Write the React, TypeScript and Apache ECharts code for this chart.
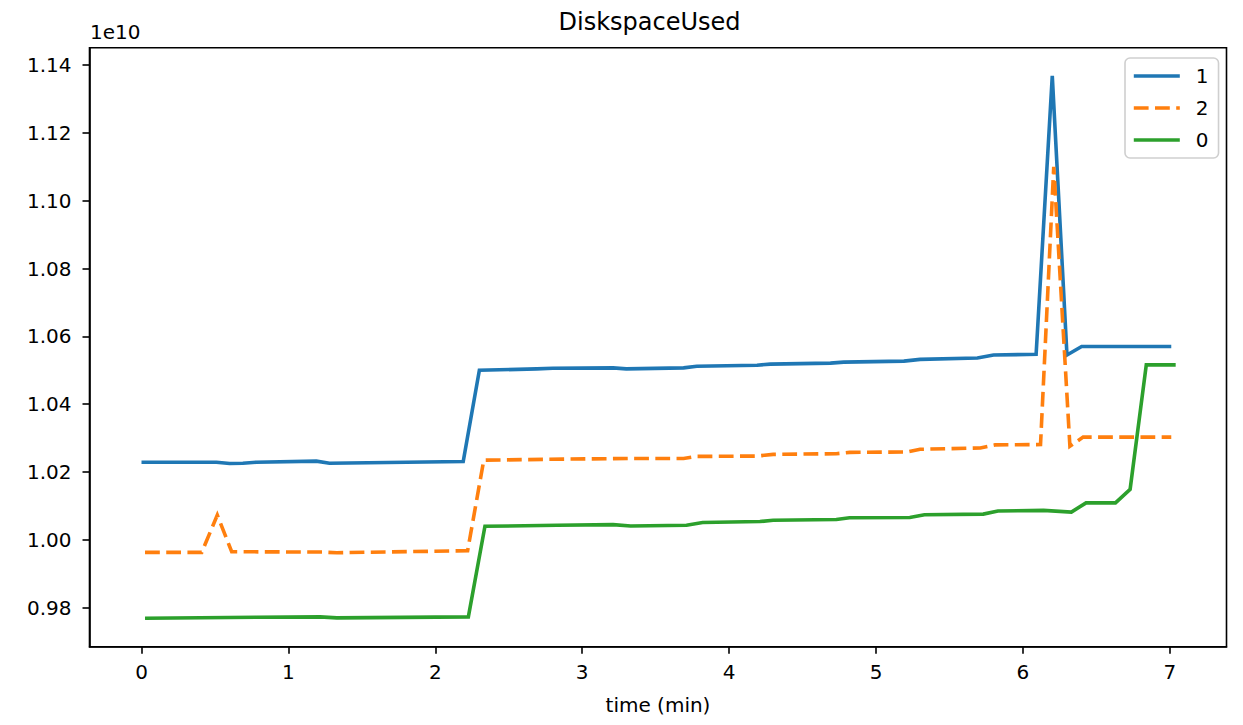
import React, { useEffect, useRef } from "react";
import * as echarts from "echarts";

// values in units of 1e10 bytes
const timeBlue = [0, 0.51, 0.6, 0.69, 0.78, 1.19, 1.28, 2.19, 2.3, 2.69, 2.8, 3.21, 3.3, 3.69, 3.78, 4.19, 4.28, 4.69, 4.78, 5.19, 5.3, 5.69, 5.8, 6.09, 6.2, 6.3, 6.4, 7.01];
const valueBlue = [1.0229, 1.0229, 1.0225, 1.0226, 1.0229, 1.0232, 1.0226, 1.0231, 1.05, 1.0504, 1.0506, 1.0507, 1.0504, 1.0507, 1.0512, 1.0515, 1.0518, 1.0521, 1.0524, 1.0527, 1.0532, 1.0536, 1.0545, 1.0547, 1.1368, 1.0545, 1.057, 1.057];

const timeOrange = [0.024, 0.41, 0.516, 0.614, 1.23, 1.33, 2.22, 2.33, 2.87, 3.33, 3.69, 3.78, 4.19, 4.3, 4.73, 4.82, 5.21, 5.3, 5.71, 5.81, 6.12, 6.21, 6.32, 6.41, 7.01];
const valueOrange = [0.9963, 0.9963, 1.0073, 0.9965, 0.9964, 0.9962, 0.9968, 1.0235, 1.0238, 1.024, 1.024, 1.0246, 1.0247, 1.0252, 1.0254, 1.0258, 1.0259, 1.0267, 1.0271, 1.028, 1.0281, 1.11, 1.0276, 1.0303, 1.0303];

const timeGreen = [0.024, 0.78, 1.215, 1.33, 2.225, 2.338, 2.83, 3.21, 3.33, 3.71, 3.82, 4.21, 4.3, 4.73, 4.82, 5.23, 5.33, 5.73, 5.83, 6.14, 6.33, 6.43, 6.63, 6.73, 6.84, 7.04];
const valueGreen = [0.9769, 0.9772, 0.9773, 0.977, 0.9773, 1.004, 1.0043, 1.0045, 1.0041, 1.0043, 1.0051, 1.0054, 1.0058, 1.006, 1.0065, 1.0066, 1.0074, 1.0076, 1.0085, 1.0087, 1.0082, 1.0109, 1.0109, 1.0149, 1.0516, 1.0516];

const xTicks = [0, 1, 2, 3, 4, 5, 6, 7];
const yTicks = [0.98, 1.0, 1.02, 1.04, 1.06, 1.08, 1.1, 1.12, 1.14];

const seriesNames = ["1", "2", "0"];
const colors = ["#1f77b4", "#ff7f0e", "#2ca02c"];

const FONT = "DejaVu Sans";

const zip = (t: number[], v: number[]) => t.map((x, i) => [x, v[i]]);

export default function App() {
  const ref = useRef<HTMLDivElement>(null);
  useEffect(() => {
    const chart = echarts.init(ref.current!, undefined, { renderer: "svg" });
    const datasets = [zip(timeBlue, valueBlue), zip(timeOrange, valueOrange), zip(timeGreen, valueGreen)];
    chart.setOption({
      animation: false,
      backgroundColor: "#ffffff",
      textStyle: { fontFamily: FONT },
      grid: {
        left: 89.5,
        top: 47.7,
        width: 1137,
        height: 599,
        show: true,
        borderColor: "#000",
        borderWidth: 1.6,
        containLabel: false,
      },
      xAxis: {
        type: "value",
        min: -0.354,
        max: 7.386,
        name: "time (min)",
        nameLocation: "middle",
        nameGap: 48,
        nameTextStyle: { fontSize: 20, color: "#000", fontFamily: FONT },
        axisLine: { show: true, onZero: false, lineStyle: { color: "#000", width: 1.6 } },
        axisTick: { show: true, customValues: xTicks, length: 7, lineStyle: { color: "#000", width: 1.6 } },
        axisLabel: {
          customValues: xTicks,
          margin: 15,
          fontSize: 20,
          color: "#000",
          fontFamily: FONT,
          formatter: (v: number) => String(v),
        },
        splitLine: { show: false },
      },
      yAxis: {
        type: "value",
        min: 0.9685,
        max: 1.1451,
        axisLine: { show: true, onZero: false, lineStyle: { color: "#000", width: 1.6 } },
        axisTick: { show: true, customValues: yTicks, length: 7, lineStyle: { color: "#000", width: 1.6 } },
        axisLabel: {
          customValues: yTicks,
          margin: 18,
          fontSize: 20,
          color: "#000",
          fontFamily: FONT,
          formatter: (v: number) => v.toFixed(2),
        },
        splitLine: { show: false },
      },
      legend: {
        left: 1125,
        top: 58,
        orient: "vertical",
        padding: [8, 10, 8, 7],
        itemGap: 12,
        itemWidth: 46,
        itemHeight: 20,
        borderColor: "#cfcfcf",
        borderWidth: 1.6,
        borderRadius: 5,
        backgroundColor: "rgba(255,255,255,0.8)",
        itemStyle: { opacity: 0, borderWidth: 0 },
        lineStyle: { width: 3.6 },
        textStyle: { fontSize: 20, color: "#000", fontFamily: FONT, lineHeight: 20, padding: [0, 0, 0, 11] },
        data: seriesNames,
      },
      series: seriesNames.map((name, i) => ({
        name,
        type: "line",
        data: datasets[i],
        symbol: "none",
        showSymbol: false,
        color: colors[i],
        lineStyle: {
          color: colors[i],
          width: 3.6,
          type: i === 1 ? [14.8, 6.4] : "solid",
          cap: "butt",
          join: "miter",
        },
        z: 2 + i,
      })),
      graphic: [
        {
          type: "text",
          left: 658.5 - 100,
          top: 10,
          style: {
            text: "DiskspaceUsed",
            x: 100,
            fontSize: 24,
            fontFamily: FONT,
            fill: "#000",
            textAlign: "center",
          },
        },
        {
          type: "text",
          x: 90,
          y: 22,
          style: {
            text: "1e10",
            fontSize: 20,
            fontFamily: FONT,
            fill: "#000",
          },
        },
      ],
    });
    return () => chart.dispose();
  }, []);
  return (
    <div
      ref={ref}
      style={{ position: "absolute", left: 0, top: 0, width: 1243, height: 725, background: "#fff" }}
    />
  );
}
